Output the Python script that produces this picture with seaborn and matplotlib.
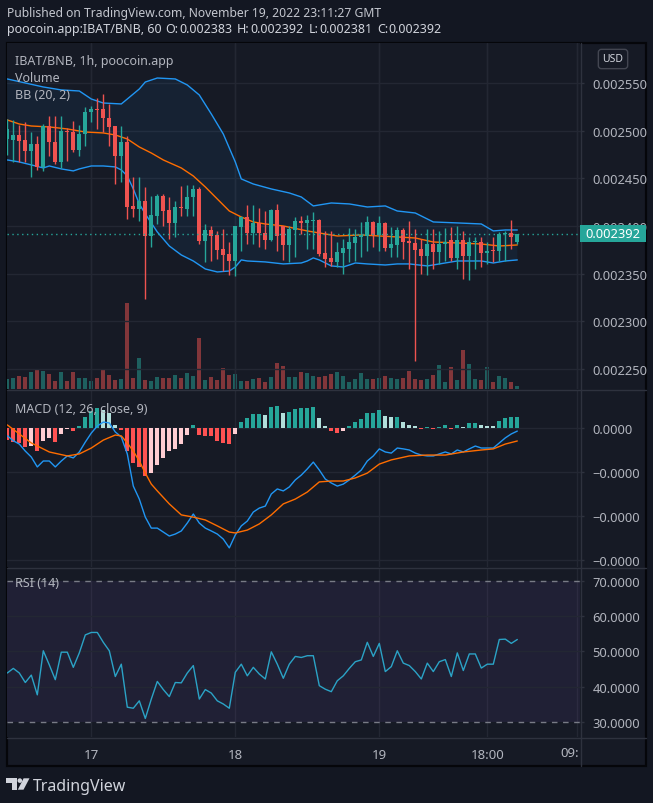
import numpy as np
import matplotlib
matplotlib.use("Agg")
import matplotlib.pyplot as plt
from matplotlib.patches import Rectangle, Polygon, Ellipse
from matplotlib.lines import Line2D
import seaborn as sns

W, H = 653, 804

# hourly candles, 16 Nov 10:00 -> 19 Nov 23:00; prices in micro-BNB (x 1e-6)
opens = [2491.3, 2490.3, 2495.5, 2490.3, 2479.1, 2486.1, 2461.6, 2504.6, 2488.5, 2467.5,
         2499.3, 2499.0, 2480.1, 2496.5, 2519.3, 2522.8, 2522.8, 2513.0, 2504.6, 2473.8,
         2488.5, 2421.4, 2417.9, 2426.7, 2390.0, 2410.9, 2431.9, 2416.9, 2403.3, 2420.4,
         2417.9, 2430.2, 2438.9, 2384.7, 2395.9, 2390.7, 2376.0, 2370.8, 2363.8, 2399.4,
         2409.6, 2392.4, 2402.9, 2392.4, 2385.8, 2416.9, 2400.5, 2380.6, 2396.3, 2405.7,
         2403.3, 2405.7, 2406.4, 2371.8, 2366.6, 2362.7, 2371.8, 2376.0, 2382.3, 2388.3,
         2389.3, 2404.7, 2390.7, 2403.6, 2377.1, 2380.6, 2395.9, 2384.7, 2382.3, 2376.0,
         2369.0, 2381.2, 2372.5, 2381.2, 2385.4, 2366.6, 2385.4, 2369.0, 2383.0, 2383.7,
         2371.5, 2374.3, 2373.6, 2391.7, 2392.4, 2383.0]
highs = [2512.3, 2511.2, 2506.0, 2508.8, 2498.3, 2494.8, 2507.0, 2515.8, 2515.8, 2515.8,
         2502.5, 2510.5, 2506.0, 2524.5, 2526.2, 2533.9, 2538.5, 2528.0, 2505.3, 2505.3,
         2494.8, 2451.1, 2451.1, 2440.6, 2431.9, 2433.7, 2433.7, 2430.2, 2426.7, 2442.4,
         2443.1, 2443.1, 2440.6, 2402.2, 2400.5, 2395.2, 2397.0, 2383.0, 2400.5, 2411.0,
         2422.1, 2422.1, 2418.7, 2415.5, 2418.0, 2423.2, 2400.5, 2400.5, 2409.2, 2411.0,
         2412.0, 2414.5, 2407.5, 2395.2, 2395.2, 2383.0, 2386.5, 2397.7, 2397.0, 2404.0,
         2411.0, 2405.7, 2411.0, 2404.0, 2398.7, 2398.7, 2397.7, 2405.7, 2397.0, 2386.5,
         2397.0, 2397.0, 2395.2, 2397.7, 2398.7, 2400.5, 2395.2, 2388.2, 2388.2, 2388.2,
         2383.0, 2388.2, 2393.5, 2395.2, 2406.4, 2392.0]
lows = [2474.5, 2466.8, 2466.8, 2466.8, 2451.1, 2459.2, 2458.1, 2473.8, 2465.1, 2460.6,
        2468.6, 2478.0, 2473.8, 2484.3, 2508.8, 2501.8, 2498.3, 2484.3, 2444.1, 2445.9,
        2407.5, 2409.2, 2405.7, 2323.6, 2377.8, 2402.2, 2400.5, 2386.5, 2388.2, 2410.9,
        2410.9, 2410.9, 2381.2, 2362.0, 2363.8, 2365.5, 2353.3, 2348.8, 2348.1, 2374.3,
        2381.3, 2381.3, 2377.8, 2376.0, 2384.8, 2374.3, 2364.8, 2362.0, 2367.3, 2391.7,
        2376.0, 2376.0, 2369.0, 2356.8, 2357.9, 2356.8, 2349.8, 2362.0, 2363.8, 2367.3,
        2374.3, 2377.8, 2374.3, 2374.3, 2367.3, 2367.3, 2365.5, 2355.0, 2258.6, 2349.8,
        2348.8, 2355.0, 2360.3, 2363.8, 2363.8, 2355.0, 2344.6, 2343.9, 2355.0, 2356.8,
        2360.3, 2362.0, 2363.8, 2363.8, 2376.0, 2381.0]
closes = [2501.8, 2495.5, 2489.6, 2479.1, 2486.1, 2461.6, 2504.6, 2488.5, 2467.5, 2499.7,
          2498.3, 2480.1, 2496.5, 2519.3, 2522.8, 2522.1, 2513.0, 2504.2, 2473.8, 2488.5,
          2420.4, 2417.9, 2426.7, 2390.0, 2411.6, 2431.9, 2416.2, 2403.3, 2420.4, 2418.6,
          2430.2, 2438.9, 2384.7, 2395.9, 2390.0, 2375.3, 2369.7, 2363.8, 2400.1, 2409.6,
          2392.4, 2402.9, 2392.4, 2385.8, 2416.9, 2390.0, 2380.6, 2397.0, 2405.7, 2403.3,
          2406.4, 2406.4, 2370.8, 2365.5, 2362.7, 2373.2, 2377.1, 2383.7, 2388.3, 2390.7,
          2404.7, 2390.7, 2403.6, 2377.1, 2381.3, 2395.9, 2383.7, 2381.9, 2375.3, 2369.0,
          2381.2, 2372.5, 2381.2, 2383.0, 2366.6, 2385.4, 2369.0, 2383.7, 2383.7, 2371.5,
          2374.3, 2373.6, 2391.7, 2392.4, 2388.9, 2392.0]
volumes = [30, 32, 38, 36, 50, 60, 54, 45, 24, 50, 24, 50, 33, 33, 24, 33, 57, 42, 27, 30,
           258, 33, 93, 27, 24, 35, 33, 33, 42, 33, 48, 38, 153, 27, 36, 27, 63, 42, 45, 24,
           24, 30, 33, 21, 36, 78, 69, 36, 36, 51, 48, 39, 36, 40, 45, 52, 38, 22, 30, 48,
           30, 30, 33, 38, 33, 30, 33, 54, 30, 27, 30, 42, 72, 21, 66, 27, 117, 75, 30, 27,
           66, 21, 38, 33, 21, 9]

# Bollinger bands (20, 2), read at selected candles
bb_upper_k = [0, 3, 6, 9, 12, 14, 16, 19, 20, 22, 23, 25, 28, 30, 32, 34, 36, 38, 39, 41,
              44, 47, 49, 51, 54, 57, 60, 63, 65, 68, 71, 75, 79, 81, 83, 85]
bb_upper = [2554.2, 2550.0, 2545.8, 2542.7, 2541.6, 2533.2, 2529.0, 2528.0, 2533.2, 2543.7,
            2551.0, 2555.2, 2554.2, 2547.9, 2537.4, 2517.5, 2496.5, 2467.2, 2449.4, 2444.1,
            2438.9, 2434.7, 2430.5, 2421.1, 2424.2, 2423.2, 2420.0, 2421.1, 2415.8, 2413.7,
            2404.3, 2403.3, 2402.2, 2394.9, 2395.9, 2395.9]
bb_basis_k = [0, 2, 4, 7, 10, 13, 16, 18, 20, 22, 24, 26, 29, 31, 33, 35, 37, 39, 41, 43,
              46, 50, 53, 55, 59, 62, 65, 68, 71, 75, 79, 82, 85]
bb_basis = [2511.2, 2507.0, 2504.9, 2503.9, 2501.8, 2498.6, 2497.6, 2495.5, 2491.3, 2482.9,
            2476.6, 2469.3, 2460.9, 2452.5, 2441.0, 2428.4, 2415.8, 2409.5, 2404.3, 2402.2,
            2400.1, 2394.9, 2391.7, 2389.6, 2390.7, 2389.6, 2388.6, 2387.5, 2383.3, 2382.3,
            2381.2, 2379.1, 2380.2]
bb_lower_k = [0, 2, 4, 6, 7, 9, 11, 12, 14, 16, 18, 19, 20, 21, 22, 23, 25, 27, 29, 31,
              33, 35, 37, 38, 39, 40, 43, 46, 49, 50, 51, 52, 54, 56, 58, 60, 63, 65, 67, 70,
              75, 79, 81, 83, 85]
bb_lower = [2469.3, 2467.2, 2464.1, 2460.9, 2463.0, 2459.9, 2457.8, 2459.9, 2463.0, 2463.0,
            2462.0, 2458.8, 2452.5, 2438.9, 2423.2, 2412.7, 2393.8, 2379.1, 2369.7, 2363.4,
            2355.0, 2351.9, 2352.9, 2357.1, 2364.5, 2363.4, 2362.4, 2360.3, 2361.3, 2363.4,
            2366.6, 2364.5, 2358.2, 2357.1, 2361.3, 2360.3, 2359.2, 2360.3, 2360.3, 2358.2,
            2363.4, 2363.4, 2361.3, 2363.4, 2364.5]

# MACD (12, 26, close, 9), in units of 1e-6
macd_hist = [-0.53, -0.65, -0.68, -0.88, -0.80, -1.03, -0.58, -0.45, -0.62, -0.27,
             -0.05, -0.12, 0.11, 0.52, 0.79, 0.91, 0.83, 0.68, 0.14, -0.08,
             -1.03, -1.59, -1.79, -2.20, -2.06, -1.67, -1.38, -1.03, -0.95, -0.73,
             -0.32, 0.15, -0.32, -0.38, -0.38, -0.58, -0.68, -0.73, -0.27, 0.29,
             0.44, 0.64, 0.65, 0.59, 0.97, 0.98, 0.68, 0.74, 0.86, 0.90,
             0.92, 0.97, 0.45, 0.11, -0.15, -0.23, -0.12, 0.11, 0.29, 0.41,
             0.68, 0.69, 0.82, 0.56, 0.48, 0.52, 0.29, 0.15, 0.08, -0.05,
             0.06, -0.05, 0.06, 0.15, -0.03, 0.14, 0.06, 0.21, 0.24, 0.14,
             0.11, 0.11, 0.32, 0.47, 0.49, 0.50]
macd_line = [-0.35, -0.58, -0.73, -1.05, -1.32, -1.77, -1.50, -1.50, -1.77, -1.50,
             -1.27, -1.36, -1.09, -0.64, -0.23, 0.09, 0.27, 0.23, -0.18, -0.41,
             -1.18, -2.64, -3.23, -4.05, -4.55, -4.55, -4.73, -4.91, -4.82, -4.68,
             -4.32, -3.91, -4.32, -4.55, -4.68, -4.82, -5.05, -5.45, -4.86, -4.45,
             -4.23, -3.82, -3.64, -3.55, -3.00, -2.77, -2.86, -2.68, -2.36, -2.14,
             -1.86, -1.55, -1.91, -2.32, -2.50, -2.64, -2.55, -2.36, -2.14, -1.91,
             -1.50, -1.27, -0.95, -1.09, -1.14, -0.91, -0.95, -1.00, -1.14, -1.23,
             -1.27, -1.27, -1.18, -1.09, -1.18, -1.00, -1.09, -0.95, -0.82, -0.91,
             -0.91, -0.91, -0.68, -0.45, -0.27, -0.14]
signal_k = [0, 2, 4, 7, 10, 12, 14, 16, 18, 19, 20, 21, 22, 23, 24, 25, 27, 29, 31, 33,
            35, 37, 38, 40, 42, 44, 46, 48, 50, 52, 54, 56, 58, 60, 62, 64, 67, 70, 73, 76,
            79, 81, 83, 85]
signal_line = [0.14, -0.27, -0.68, -1.09, -1.27, -1.18, -0.91, -0.55, -0.32, -0.36,
               -0.68, -1.05, -1.50, -2.05, -2.55, -2.86, -3.45, -3.95, -4.05, -4.18,
               -4.45, -4.73, -4.77, -4.64, -4.36, -3.95, -3.45, -3.23, -2.91, -2.45,
               -2.41, -2.41, -2.27, -2.05, -1.64, -1.45, -1.27, -1.23, -1.23, -1.09,
               -1.00, -0.95, -0.73, -0.59]

# RSI (14)
rsi = [43.9, 45.2, 43.9, 41.2, 43.3, 37.7, 50.2, 46.2, 42.0, 49.8,
       49.8, 45.5, 49.6, 54.7, 55.4, 55.4, 52.6, 50.2, 42.9, 46.4,
       34.2, 33.9, 36.0, 31.0, 36.5, 41.5, 39.2, 37.2, 41.2, 41.1,
       43.9, 46.0, 36.5, 39.2, 38.2, 36.0, 35.1, 33.9, 44.1, 46.4,
       43.1, 45.5, 43.6, 42.2, 49.9, 46.4, 42.4, 46.4, 48.6, 48.3,
       48.8, 48.8, 40.3, 39.3, 38.6, 41.7, 43.1, 45.2, 47.1, 47.6,
       52.6, 48.6, 52.3, 44.3, 45.7, 50.2, 46.7, 46.0, 44.3, 42.2,
       46.7, 44.3, 47.1, 47.7, 42.9, 49.6, 44.6, 49.3, 49.3, 45.3,
       46.4, 46.4, 53.4, 53.5, 52.3, 53.4]

price_ticks = [2250, 2300, 2350, 2400, 2450, 2500, 2550]
macd_ticks = [0, -2, -4, -6]
rsi_ticks = [30, 40, 50, 60, 70]
time_k = [14, 38, 62, 80, 95]
time_labels = ["17", "18", "19", "18:00", ""]
last_price = 2392.0

BG = "#131722"
PANE = "#161a25"
GRID = "#232733"
SEP = "#2e323e"
TXT = "#b2b5be"
UP, DOWN = "#26a69a", "#ef5350"
BLUE, ORANGE = "#2196f3", "#ff6d00"

sns.set_theme(style="dark")
plt.rcParams["font.family"] = ["Noto Sans", "DejaVu Sans"]

fig = plt.figure(figsize=(W / 100, H / 100), dpi=100, facecolor=BG)


def box(x0, y0, x1, y1):
    return [x0 / W, 1 - y1 / H, (x1 - x0) / W, (y1 - y0) / H]


def fp(x, y):
    return (x / W, 1 - y / H)


fig.patches.append(Rectangle(fp(7, 767), 639 / W, 723 / H, transform=fig.transFigure,
                             facecolor=PANE, edgecolor="#05060a", lw=1.6, zorder=-1))

XL = (-0.05, 95.45)
ax_vol = fig.add_axes(box(7, 44, 580, 390))
ax = fig.add_axes(box(7, 44, 580, 390))
ax_macd = fig.add_axes(box(7, 391, 580, 568))
ax_rsi = fig.add_axes(box(7, 570, 580, 738))
for a in (ax_vol, ax, ax_macd, ax_rsi):
    for s in a.spines.values():
        s.set_visible(False)
    a.set_facecolor(PANE)
    a.grid(False)
    for k in time_k:
        a.axvline(k, color=GRID, lw=1, zorder=0)
ax.patch.set_visible(False)

candle = np.arange(len(closes))
o, hi, lo, c = (np.array(v) for v in (opens, highs, lows, closes))
cols = np.where(c >= o, UP, DOWN)

# volume overlay
ax_vol.bar(candle, volumes, width=0.66, color=cols, alpha=0.5, linewidth=0)
ax_vol.set_ylim(0, 1035)
ax_vol.set_xlim(*XL)
ax_vol.set_xticks([])
ax_vol.set_yticks([])

# price pane
for p in price_ticks:
    ax.axhline(p, color=GRID, lw=1, zorder=0)
ax.fill(np.r_[bb_upper_k, bb_lower_k[::-1]], np.r_[bb_upper, bb_lower[::-1]],
        color=BLUE, alpha=0.07, lw=0, zorder=1)
sns.lineplot(x=bb_upper_k, y=bb_upper, ax=ax, color=BLUE, lw=1, zorder=2)
sns.lineplot(x=bb_lower_k, y=bb_lower, ax=ax, color=BLUE, lw=1, zorder=2)
sns.lineplot(x=bb_basis_k, y=bb_basis, ax=ax, color=ORANGE, lw=1, zorder=2)
ax.vlines(candle, lo, hi, colors=cols, lw=1, zorder=3)
ax.bar(candle, np.maximum(np.abs(c - o), 0.9), bottom=np.minimum(o, c), width=0.66,
       color=cols, linewidth=0, zorder=4)
ax.axhline(last_price, color=UP, ls=(0, (1, 2.5)), lw=1, zorder=5)
ax.set_xlim(*XL)
ax.set_ylim(2229.2, 2591.9)
ax.yaxis.tick_right()
ax.set_yticks(price_ticks)
ax.set_yticklabels([f"{p * 1e-6:.6f}" for p in price_ticks])

# MACD pane
for v in macd_ticks:
    ax_macd.axhline(v, color=GRID, lw=1, zorder=0)
hist = np.array(macd_hist)
prev = np.r_[0.0, hist[:-1]]
hcols = np.where(hist >= 0, np.where(hist > prev, "#26a69a", "#b2dfdb"),
                 np.where(hist <= prev, "#ff5252", "#ffcdd2"))
ax_macd.bar(candle, hist, width=0.66, color=hcols, linewidth=0, zorder=2)
sns.lineplot(x=candle, y=macd_line, ax=ax_macd, color=BLUE, lw=1, zorder=3)
sns.lineplot(x=signal_k, y=signal_line, ax=ax_macd, color=ORANGE, lw=1, zorder=3)
ax_macd.set_xlim(*XL)
ax_macd.set_ylim(-6.318, 1.727)
ax_macd.yaxis.tick_right()
ax_macd.set_yticks(macd_ticks)
ax_macd.set_yticklabels(["0.0000" if v == 0 else "\u22120.0000" for v in macd_ticks])

# RSI pane
ax_rsi.axhspan(30, 70, color="#7e57c2", alpha=0.1, lw=0, zorder=0)
for v in (40, 50, 60):
    ax_rsi.axhline(v, color=GRID, lw=1, zorder=0)
for v in (30, 70):
    ax_rsi.axhline(v, color="#787b86", lw=1, ls=(0, (4, 4)), zorder=1)
sns.lineplot(x=candle, y=rsi, ax=ax_rsi, color="#2ba3c6", lw=1, zorder=3)
ax_rsi.set_xlim(*XL)
ax_rsi.set_ylim(25.74, 73.40)
ax_rsi.yaxis.tick_right()
ax_rsi.set_yticks(rsi_ticks)
ax_rsi.set_yticklabels([f"{v:.4f}" for v in rsi_ticks])
ax_rsi.set_xticks(time_k)
ax_rsi.set_xticklabels(time_labels)

for a in (ax, ax_macd, ax_rsi):
    a.set_xlabel("")
    a.set_ylabel("")
    a.tick_params(axis="y", which="both", right=True, left=False, length=3, width=1,
                  color=SEP, pad=6, labelsize=9.3, labelcolor=TXT)
for a in (ax, ax_macd):
    a.tick_params(axis="x", bottom=False, labelbottom=False)
ax_rsi.tick_params(axis="x", bottom=True, length=0, pad=8, labelsize=9.5, labelcolor=TXT)

# pane separators
for y in (390.5, 569.0, 738.5):
    fig.add_artist(Line2D([7 / W, 646 / W], [1 - y / H] * 2, color=SEP, lw=1))
fig.add_artist(Line2D([580.5 / W] * 2, [1 - 44 / H, 1 - 767 / H], color=SEP, lw=1))


def ftext(x, y, s, **kw):
    return fig.text(x / W, 1 - y / H, s, **kw)


# last price tag and currency box
fig.patches.append(Rectangle(fp(580, 243), 66 / W, 17 / H, transform=fig.transFigure,
                             facecolor=UP, edgecolor="none", zorder=10))
ftext(613, 234.5, "0.002392", color="white", fontsize=9.3, ha="center", va="center", zorder=11)
ftext(613, 60, "USD", color="#d1d4dc", fontsize=7.5, ha="center", va="center",
      bbox=dict(boxstyle="round,pad=0.4,rounding_size=0.3", fc=PANE, ec="#434651", lw=1))
ftext(570, 753.5, "09:", color=TXT, fontsize=9.5, ha="center", va="center")

# legends
ftext(15, 65, "IBAT/BNB, 1h, poocoin.app", color=TXT, fontsize=9, fontweight="bold", va="baseline")
ftext(15, 81.7, "Volume", color=TXT, fontsize=9, va="baseline")
ftext(15, 99.3, "BB (20, 2)", color=TXT, fontsize=9, va="baseline")
ftext(15, 412.7, "MACD (12, 26, close, 9)", color=TXT, fontsize=9, va="baseline")
ftext(15, 586.7, "RSI (14)", color=TXT, fontsize=9, va="baseline")

# header
ftext(7, 17.3, "Published on TradingView.com, November 19, 2022 23:11:27 GMT",
      color="#c3c6ce", fontsize=8.75, va="baseline")
renderer = fig.canvas.get_renderer()
x = 7
for s, wt, gap in [("poocoin.app:IBAT/BNB, 60", "bold", 4), ("O:", "bold", 0.5),
                   ("0.002383", "normal", 5), ("H:", "bold", 0.5), ("0.002392", "normal", 5),
                   ("L:", "bold", 0.5), ("0.002381", "normal", 5), ("C:", "bold", 0.5),
                   ("0.002392", "normal", 0)]:
    t = ftext(x, 33.3, s, color="#d1d4dc", fontsize=9, fontweight=wt, va="baseline")
    x += t.get_window_extent(renderer).width + gap

# footer logo
logo = "#d1d4dc"
fig.patches.append(Polygon([fp(6, 779.3), fp(16.7, 779.3), fp(16.7, 790.7), fp(12, 790.7),
                            fp(12, 783.6), fp(6, 783.6)], closed=True,
                           transform=fig.transFigure, facecolor=logo, edgecolor="none"))
fig.patches.append(Ellipse(fp(19.8, 781.6), 4.6 / W, 4.6 / H, transform=fig.transFigure,
                           facecolor=logo, edgecolor="none"))
fig.patches.append(Polygon([fp(23.6, 779.3), fp(29.5, 779.3), fp(23.5, 790.7), fp(17.8, 790.7)],
                           closed=True, transform=fig.transFigure, facecolor=logo, edgecolor="none"))
ftext(33, 790.8, "TradingView", color=logo, fontsize=11.5, fontweight="bold", va="baseline")

fig.savefig("out.png", dpi=100, facecolor=BG)
